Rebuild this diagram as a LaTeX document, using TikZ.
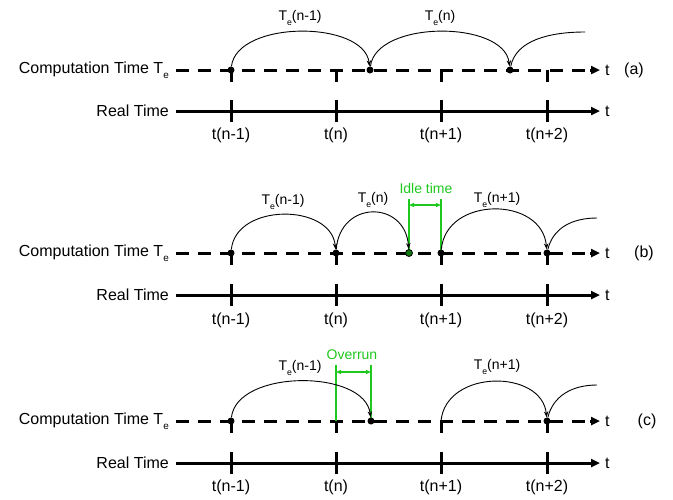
\documentclass[tikz,border=0pt]{standalone}
\usepackage{fontspec}
\setmainfont{Liberation Sans}
\usetikzlibrary{arrows.meta,calc}
\definecolor{grn}{RGB}{30,200,30}
\newcommand{\esub}{\raisebox{-0.3em}{\fontsize{0.62em}{0.62em}\selectfont e}}
\begin{document}
\begin{tikzpicture}[x=1pt,y=-1pt,
  axis/.style={line width=3pt,-{Triangle[length=9pt,width=8pt]}},
  dashline/.style={line width=3pt,dash pattern=on 13pt off 9pt},
  tickmark/.style={line width=3pt},
  arcline/.style={line width=0.9pt,-{Stealth[length=6pt,width=4.5pt]}},
  plainarc/.style={line width=0.9pt},
  dot/.style={circle,fill=black,inner sep=0pt,minimum size=7pt},
  gdot/.style={circle,fill=grn!60!black,draw=black,line width=0.8pt,inner sep=0pt,minimum size=7pt},
  lbl/.style={font=\fontsize{16}{19}\selectfont,inner sep=0pt},
  smalllbl/.style={font=\fontsize{14}{17}\selectfont,inner sep=0pt},
  gline/.style={grn,line width=1.5pt},
  garrow/.style={grn,line width=1.1pt,{Triangle[length=5pt,width=4pt]}-{Triangle[length=5pt,width=4pt]}},
]
\useasboundingbox (0,0) rectangle (673,499);

\foreach \pn/\yc/\yr/\yl in {a/70/111/135,b/253/295/320,c/421/463/487}{
  \node[lbl,anchor=east] (\pn comp) at (169,\yc) {Computation Time T\esub};
  \node[lbl,anchor=east] (\pn real) at (169,\yr) {Real Time};
  \coordinate (\pn cs) at (176,\yc);
  \coordinate (\pn cm) at (590,\yc);
  \coordinate (\pn ce) at (600,\yc);
  \coordinate (\pn rs) at (176,\yr);
  \coordinate (\pn re) at (600,\yr);
  \draw[dashline] (\pn cs) -- (\pn cm);
  \draw[axis] (\pn cm) -- (\pn ce);
  \draw[axis] (\pn rs) -- (\pn re);
  \node[lbl,anchor=west] (\pn tc) at (605,\yc) {t};
  \node[lbl,anchor=west] (\pn tr) at (605,\yr) {t};
  \foreach \i/\x/\lab in {1/231/t(n-1),2/336/t(n),3/441/t(n+1),4/547/t(n+2)}{
    \coordinate (\pn c\i) at (\x,\yc);
    \coordinate (\pn cb\i) at (\x,\yc+12);
    \coordinate (\pn rt\i) at (\x,\yr-11);
    \coordinate (\pn rb\i) at (\x,\yr+11);
    \draw[tickmark] (\pn c\i) -- (\pn cb\i);
    \draw[tickmark] (\pn rt\i) -- (\pn rb\i);
    \node[lbl] (\pn t\i) at (\x,\yl) {\lab};
  }
}

\node[lbl] (alabel) at (634,70) {(a)};
\node[lbl] (blabel) at (644,253) {(b)};
\node[lbl] (clabel) at (647,421) {(c)};

% ---------- panel (a)
\node[dot] (ad1) at (ac1) {};
\node[dot] (ad2) at (370,70) {};
\node[dot] (ad3) at (510,70) {};
\coordinate (aend) at (585,32);
\draw[arcline] (ad1) .. controls +(6,-50) and +(-6,-50) .. (ad2);
\draw[arcline] (ad2) .. controls +(6,-50) and +(-6,-50) .. (ad3);
\draw[plainarc] (ad3) .. controls +(6,-30) and +(-35,0) .. (aend);
\node[smalllbl] (ala1) at (300,18) {T\esub(n-1)};
\node[smalllbl] (ala2) at (440,18) {T\esub(n)};

% ---------- panel (b)
\coordinate (bg1t) at (409,199);
\coordinate (bg2t) at (441,199);
\coordinate (bg1a) at (409,205);
\coordinate (bg2a) at (441,205);
\draw[gline] (bg1t) -- (409,253);
\draw[gline] (bg2t) -- (bc3);
\draw[garrow] (bg1a) -- (bg2a);
\node[dot] (bd1) at (bc1) {};
\node[dot] (bd2) at (bc2) {};
\node[gdot] (bd3) at (409,253) {};
\node[dot] (bd4) at (bc3) {};
\node[dot] (bd5) at (bc4) {};
\coordinate (bend) at (597,218);
\draw[arcline] (bd1) .. controls +(5,-50) and +(-5,-50) .. (bd2);
\draw[arcline] (bd2) .. controls +(4,-53) and +(-4,-53) .. (bd3);
\draw[arcline] (bd4) .. controls +(5,-57) and +(-5,-57) .. (bd5);
\draw[plainarc] (bd5) .. controls +(6,-25) and +(-25,0) .. (bend);
\node[smalllbl] (blb1) at (283,202) {T\esub(n-1)};
\node[smalllbl] (blb2) at (373,200) {T\esub(n)};
\node[smalllbl,text=grn] (bidle) at (426,188) {Idle time};
\node[smalllbl] (blb3) at (497,200) {T\esub(n+1)};

% ---------- panel (c)
\coordinate (cg1t) at (336,365);
\coordinate (cg2t) at (371,365);
\coordinate (cg1a) at (336,372);
\coordinate (cg2a) at (371,372);
\draw[gline] (cg1t) -- (cc2);
\draw[gline] (cg2t) -- (371,421);
\draw[garrow] (cg1a) -- (cg2a);
\node[dot] (cd1) at (cc1) {};
\node[dot] (cd2) at (371,421) {};
\node[dot] (cd3) at (cc4) {};
\coordinate (cend) at (597,385);
\draw[arcline] (cd1) .. controls +(6,-52) and +(-6,-52) .. (cd2);
\draw[arcline] (cc3) .. controls +(5,-52) and +(-5,-52) .. (cd3);
\draw[plainarc] (cd3) .. controls +(6,-25) and +(-25,0) .. (cend);
\node[smalllbl] (clb1) at (300,368) {T\esub(n-1)};
\node[smalllbl,text=grn] (cover) at (352,355) {Overrun};
\node[smalllbl] (clb2) at (497,367) {T\esub(n+1)};
\end{tikzpicture}
\end{document}
